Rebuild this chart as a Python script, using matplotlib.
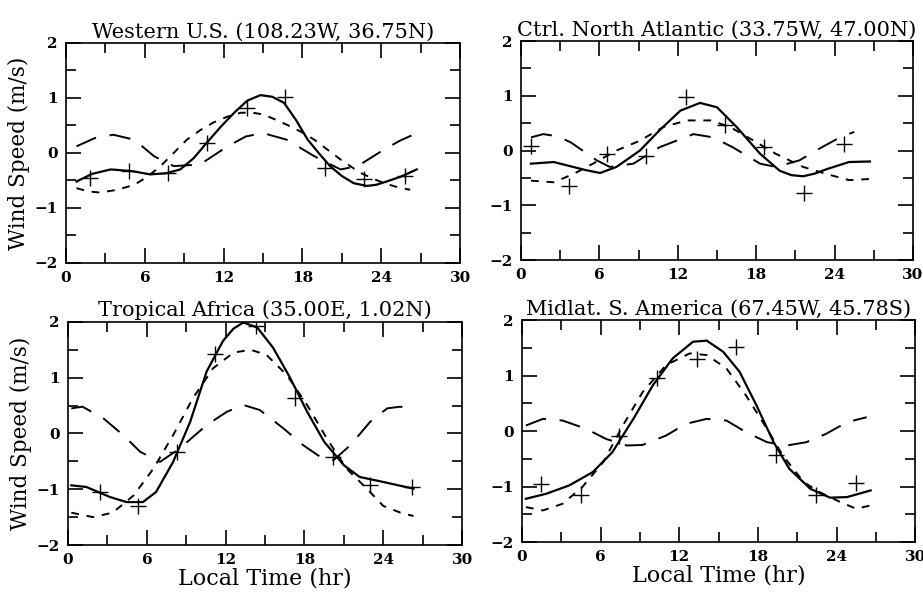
import matplotlib
matplotlib.use("Agg")
import matplotlib.pyplot as plt
from matplotlib.ticker import MultipleLocator

# --- Dados ---
titulos = ["Western U.S. (108.23W, 36.75N)",
           "Ctrl. North Atlantic (33.75W, 47.00N)",
           "Tropical Africa (35.00E, 1.02N)",
           "Midlat. S. America (67.45W, 45.78S)"]

# Painel 1: Western U.S.
obs1_t = [1.8, 4.8, 7.8, 10.7, 13.8, 16.7, 19.7, 22.7, 25.8]
obs1_v = [-0.45, -0.33, -0.36, 0.18, 0.82, 1.02, -0.27, -0.48, -0.42]
sol1_t = [0.8, 2.0, 3.4, 5.0, 6.4, 7.6, 8.7, 9.7, 10.7, 11.8, 12.8, 13.8, 14.8, 15.7, 16.6, 17.5, 18.4, 19.3, 20.1, 21.0, 21.9, 22.9, 23.6, 24.4, 25.5, 26.7]
sol1_v = [-0.52, -0.38, -0.30, -0.33, -0.39, -0.37, -0.30, -0.10, 0.18, 0.48, 0.73, 0.95, 1.05, 1.02, 0.91, 0.60, 0.24, -0.02, -0.24, -0.42, -0.55, -0.60, -0.58, -0.52, -0.43, -0.30]
cur1_t = [0.8, 1.7, 2.6, 3.9, 5.2, 6.2, 7.2, 8.2, 9.2, 10.2, 11.2, 12.3, 13.3, 14.2, 15.0, 16.0, 17.1, 18.0, 18.9, 19.9, 20.9, 21.7, 22.4, 23.3, 24.2, 25.2, 26.2]
cur1_v = [-0.64, -0.70, -0.72, -0.67, -0.58, -0.43, -0.24, 0.00, 0.24, 0.41, 0.55, 0.66, 0.73, 0.73, 0.70, 0.60, 0.48, 0.37, 0.24, 0.06, -0.12, -0.25, -0.36, -0.46, -0.55, -0.62, -0.67]
lon1_t = [0.8, 2.2, 3.6, 5.2, 6.7, 8.2, 10.2, 12.3, 13.7, 15.0, 16.8, 18.9, 20.9, 22.2, 23.2, 24.2, 25.4, 26.7]
lon1_v = [0.12, 0.27, 0.33, 0.24, -0.06, -0.24, -0.21, 0.12, 0.30, 0.36, 0.24, -0.06, -0.30, -0.24, -0.09, 0.06, 0.22, 0.36]

# Painel 2: Ctrl. North Atlantic
obs2_t = [0.76, 3.7, 6.6, 9.6, 12.6, 15.6, 18.6, 21.65, 24.75]
obs2_v = [0.08, -0.65, -0.06, -0.10, 0.98, 0.46, 0.06, -0.78, 0.12]
sol2_t = [0.76, 2.5, 4.0, 5.0, 6.05, 7.3, 8.2, 9.1, 10.6, 12.2, 13.7, 15.0, 16.5, 18.3, 19.8, 20.7, 21.6, 22.5, 23.4, 25.1, 26.7]
sol2_v = [-0.24, -0.21, -0.30, -0.36, -0.41, -0.30, -0.15, 0.00, 0.37, 0.73, 0.87, 0.79, 0.43, -0.06, -0.37, -0.45, -0.47, -0.42, -0.34, -0.21, -0.20]
cur2_t = [0.76, 2.5, 4.0, 5.5, 7.3, 9.1, 10.9, 12.7, 14.5, 16.0, 17.8, 19.5, 21.6, 23.4, 25.1, 26.7]
cur2_v = [-0.55, -0.58, -0.43, -0.24, 0.00, 0.18, 0.43, 0.55, 0.55, 0.43, 0.18, -0.06, -0.30, -0.43, -0.54, -0.52]
lon2_t = [0.76, 1.7, 2.8, 3.8, 5.8, 6.8, 8.6, 10.6, 13.2, 14.7, 16.2, 18.3, 19.5, 21.3, 22.8, 24.4, 25.5]
lon2_v = [0.24, 0.30, 0.26, 0.15, -0.18, -0.30, -0.24, 0.06, 0.30, 0.24, 0.06, -0.24, -0.30, -0.18, 0.03, 0.24, 0.34]

# Painel 3: Tropical Africa
obs3_t = [2.4, 5.3, 8.3, 11.2, 14.3, 17.3, 20.2, 23.0, 26.2]
obs3_v = [-1.05, -1.30, -0.33, 1.43, 1.93, 0.63, -0.42, -0.93, -0.96]
sol3_t = [0.25, 1.4, 3.2, 4.45, 5.7, 6.7, 8.0, 9.3, 10.55, 11.8, 12.6, 13.35, 14.4, 15.6, 16.9, 18.2, 19.5, 21.0, 22.2, 24.0, 26.3]
sol3_v = [-0.93, -0.96, -1.14, -1.23, -1.23, -1.05, -0.51, 0.21, 1.11, 1.66, 1.88, 1.99, 1.90, 1.54, 1.00, 0.39, -0.15, -0.57, -0.78, -0.87, -0.99]
cur3_t = [0.25, 1.9, 3.4, 5.0, 6.5, 8.0, 9.5, 11.05, 12.6, 13.9, 15.1, 16.65, 18.2, 19.7, 21.2, 22.75, 24.0, 25.3, 26.3]
cur3_v = [-1.42, -1.50, -1.42, -1.11, -0.63, -0.03, 0.63, 1.17, 1.45, 1.50, 1.41, 1.05, 0.51, -0.09, -0.63, -0.99, -1.30, -1.42, -1.48]
lon3_t = [0.25, 1.1, 2.7, 4.2, 5.5, 7.0, 8.5, 10.55, 12.1, 13.35, 14.6, 16.4, 17.9, 19.2, 20.2, 21.5, 23.0, 24.3, 25.3, 26.3]
lon3_v = [0.45, 0.48, 0.27, -0.03, -0.33, -0.51, -0.27, 0.15, 0.39, 0.51, 0.42, 0.09, -0.21, -0.42, -0.48, -0.21, 0.21, 0.45, 0.48, 0.42]

# Painel 4: Midlat. S. America
obs4_t = [1.45, 4.5, 7.4, 10.3, 13.35, 16.3, 19.4, 22.4, 25.5]
obs4_v = [-0.95, -1.16, -0.09, 0.95, 1.30, 1.52, -0.43, -1.16, -0.93]
sol4_t = [0.3, 1.85, 3.6, 5.4, 6.9, 8.5, 10.0, 11.5, 13.05, 14.1, 15.35, 16.6, 17.9, 19.2, 20.4, 22.0, 23.5, 24.8, 26.6]
sol4_v = [-1.22, -1.13, -0.98, -0.74, -0.38, 0.22, 0.83, 1.31, 1.61, 1.63, 1.43, 1.07, 0.46, -0.20, -0.68, -1.04, -1.20, -1.19, -1.07]
cur4_t = [0.3, 1.6, 3.1, 4.6, 6.2, 7.7, 9.2, 11.0, 12.8, 14.1, 15.6, 17.1, 18.7, 19.9, 21.5, 22.7, 24.3, 25.5, 26.6]
cur4_v = [-1.37, -1.43, -1.31, -1.01, -0.56, 0.10, 0.70, 1.19, 1.40, 1.37, 1.13, 0.64, 0.04, -0.44, -0.92, -1.10, -1.28, -1.40, -1.34]
lon4_t = [0.3, 1.6, 3.1, 4.9, 6.4, 8.0, 9.2, 11.0, 12.5, 14.1, 15.6, 17.1, 18.7, 20.2, 21.7, 23.2, 24.8, 26.3]
lon4_v = [0.10, 0.22, 0.19, 0.04, -0.14, -0.26, -0.25, -0.08, 0.13, 0.22, 0.19, -0.02, -0.20, -0.26, -0.20, -0.05, 0.16, 0.25]

paineis = [
    (obs1_t, obs1_v, sol1_t, sol1_v, cur1_t, cur1_v, lon1_t, lon1_v),
    (obs2_t, obs2_v, sol2_t, sol2_v, cur2_t, cur2_v, lon2_t, lon2_v),
    (obs3_t, obs3_v, sol3_t, sol3_v, cur3_t, cur3_v, lon3_t, lon3_v),
    (obs4_t, obs4_v, sol4_t, sol4_v, cur4_t, cur4_v, lon4_t, lon4_v),
]

x_ticks = [0, 6, 12, 18, 24, 30]
y_ticks = [-2, -1, 0, 1, 2]

plt.rcParams["font.family"] = "DejaVu Serif"

fig = plt.figure(figsize=(9.23, 5.95), dpi=100)

# posições dos eixos (fração da figura)
posicoes = [
    [0.0715, 0.558, 0.427, 0.370],
    [0.5645, 0.563, 0.4247, 0.368],
    [0.0737, 0.084, 0.427, 0.375],
    [0.5655, 0.089, 0.426, 0.373],
]

for k, (pos, dados, titulo) in enumerate(zip(posicoes, paineis, titulos)):
    ot, ov, st, sv, ct, cv, lt, lv = dados
    ax = fig.add_axes(pos)
    ax.plot(st, sv, "-", color="black", lw=1.6)
    ax.plot(ct, cv, color="black", lw=1.4, dashes=(4, 4))
    ax.plot(lt, lv, color="black", lw=1.4, dashes=(11, 7))
    ax.plot(ot, ov, "+", color="black", ms=11, mew=1.0)

    ax.set_xlim(0, 30)
    ax.set_ylim(-2, 2)
    ax.set_xticks(x_ticks)
    ax.set_yticks(y_ticks)
    ax.xaxis.set_minor_locator(MultipleLocator(3))
    ax.yaxis.set_minor_locator(MultipleLocator(0.5))
    ax.tick_params(which="both", direction="in", top=True, right=True,
                   width=1.2, labelsize=11)
    ax.tick_params(which="major", length=11, pad=6)
    ax.tick_params(which="minor", length=7)
    for lab in ax.get_xticklabels() + ax.get_yticklabels():
        lab.set_fontweight("bold")
    for sp in ax.spines.values():
        sp.set_linewidth(1.2)

    ax.set_title(titulo, fontsize=15, pad=4)
    if k in (0, 2):
        ax.set_ylabel("Wind Speed (m/s)", fontsize=15.5, labelpad=3)
    if k in (2, 3):
        ax.set_xlabel("Local Time (hr)", fontsize=16, labelpad=0)

fig.savefig("out.png", dpi=100)
